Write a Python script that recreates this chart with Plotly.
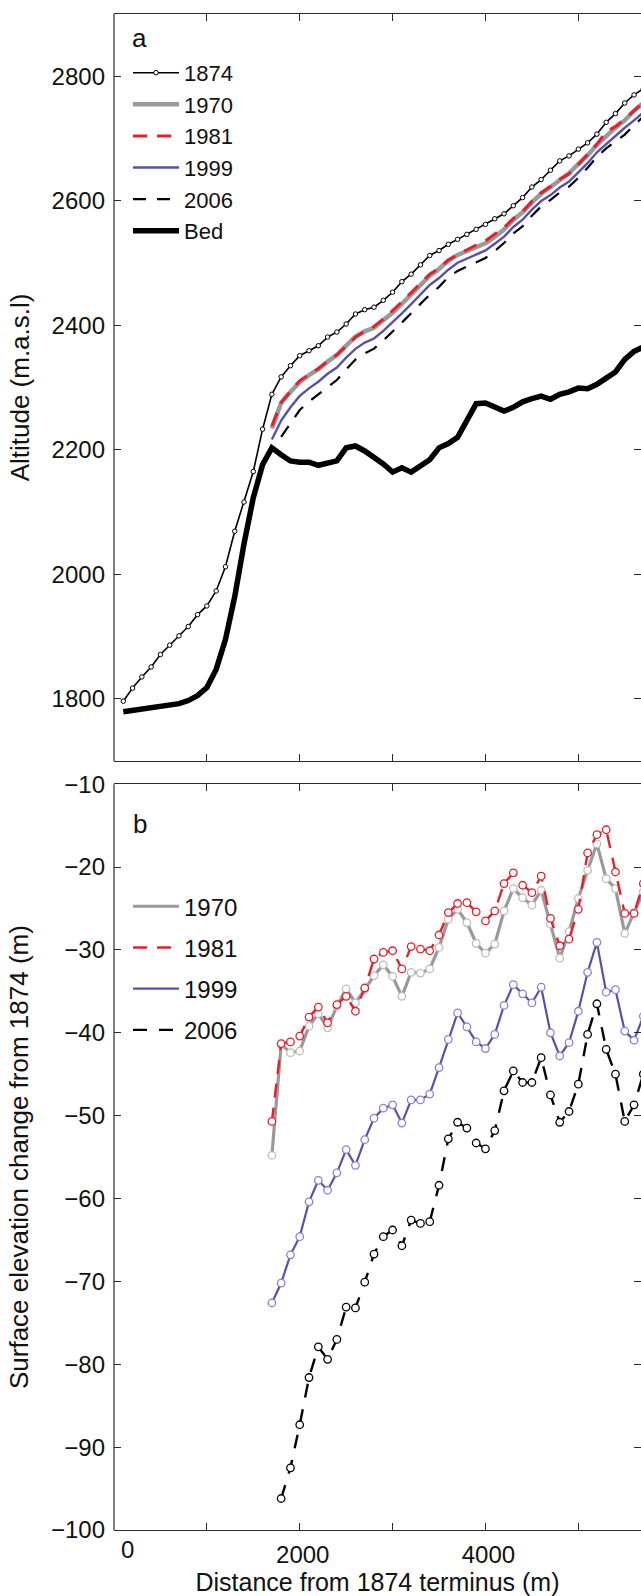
import plotly.graph_objects as go

# ---------------- data ----------------
dist_1874 = [100, 200, 300, 400, 500, 600, 700, 800, 900, 1000, 1100, 1200, 1300, 1400,
             1500, 1600, 1700, 1800, 1900, 2000, 2100, 2200, 2300, 2400, 2500, 2600, 2700,
             2800, 2900, 3000, 3100, 3200, 3300, 3400, 3500, 3600, 3700, 3800, 3900, 4000,
             4100, 4200, 4300, 4400, 4500, 4600, 4700, 4800, 4900, 5000, 5100, 5200, 5300,
             5400, 5500, 5600, 5700]
surf_1874 = [1796, 1817, 1835, 1851, 1871, 1886, 1901, 1916, 1935, 1949, 1973, 2012, 2069, 2116,
             2165, 2233, 2289, 2317, 2335, 2351, 2359, 2367, 2381, 2389, 2402, 2418, 2425,
             2429, 2440, 2453, 2470, 2482, 2497, 2512, 2520, 2530, 2538, 2546, 2554, 2562,
             2571, 2579, 2592, 2605, 2622, 2634, 2649, 2664, 2672, 2683, 2693, 2707, 2726,
             2740, 2757, 2770, 2780]
bed = [1779, 1781, 1783, 1785, 1787, 1789, 1792, 1797, 1805, 1818, 1847, 1895, 1964, 2049,
       2123, 2176, 2203, 2192, 2182, 2180, 2180, 2175, 2179, 2182, 2203, 2206, 2198,
       2188, 2177, 2164, 2171, 2164, 2173, 2184, 2203, 2210, 2220, 2245, 2274, 2275,
       2268, 2262, 2268, 2277, 2282, 2286, 2281, 2289, 2293, 2299, 2298, 2305, 2315,
       2325, 2345, 2358, 2365]

dist_change = [1700, 1800, 1900, 2000, 2100, 2200, 2300, 2400, 2500, 2600, 2700, 2800, 2900,
               3000, 3100, 3200, 3300, 3400, 3500, 3600, 3700, 3800, 3900, 4000, 4100, 4200,
               4300, 4400, 4500, 4600, 4700, 4800, 4900, 5000, 5100, 5200, 5300, 5400, 5500,
               5600, 5700]
chg_1970 = [-54.8, -41.4, -42.4, -42.2, -39.2, -37.7, -39.4, -36.8, -34.7, -36.4, -34.8, -33.1,
            -31.8, -33.2, -35.6, -32.7, -32.8, -32.3, -29.7, -26.3, -25.1, -26.7, -29.2, -30.4,
            -29.3, -25.3, -22.6, -23.7, -24.6, -22.8, -26.9, -31.0, -27.8, -23.8, -20.4, -17.2,
            -21.4, -22.6, -28.0, -25.5, -23.0]
chg_1981 = [-50.7, -41.3, -41.1, -40.4, -38.1, -36.9, -38.8, -36.6, -35.6, -37.4, -34.6, -31.1,
            -30.3, -30.1, -32.3, -29.6, -29.9, -30.1, -28.2, -25.5, -24.4, -24.3, -25.4, -26.5,
            -25.3, -22.0, -20.7, -22.2, -23.1, -21.1, -26.2, -29.5, -28.7, -25.1, -18.3, -16.1,
            -15.5, -20.6, -25.6, -25.6, -22.0]
chg_1999 = [-72.6, -70.2, -66.8, -64.6, -60.4, -57.8, -59.0, -56.9, -54.1, -56.0, -52.9, -50.3,
            -49.1, -48.7, -50.9, -48.1, -48.1, -47.4, -44.2, -40.8, -37.6, -39.3, -41.1, -41.9,
            -40.2, -36.7, -34.2, -35.3, -36.4, -34.5, -40.0, -42.8, -41.2, -37.4, -32.7, -29.1,
            -35.1, -34.8, -39.8, -40.9, -38.0]
dist_2006 = [1800, 1900, 2000, 2100, 2200, 2300, 2400, 2500, 2600, 2700, 2800, 2900,
             3000, 3100, 3200, 3300, 3400, 3500, 3600, 3700, 3800, 3900, 4000, 4100, 4200,
             4300, 4400, 4500, 4600, 4700, 4800, 4900, 5000, 5100, 5200, 5300, 5400, 5500,
             5600, 5700]
chg_2006 = [-96.2, -92.5, -87.3, -81.6, -77.9, -79.4, -77.0, -73.1, -73.2, -70.1, -66.7, -64.6,
            -63.8, -65.7, -62.6, -63.0, -62.8, -58.4, -52.8, -50.8, -51.5, -53.3, -54.0, -51.8,
            -47.0, -44.6, -46.0, -46.0, -43.0, -47.5, -50.8, -49.5, -46.2, -40.2, -36.5, -42.0,
            -45.0, -50.7, -48.7, -45.0]

alt_ticks = [1800, 2000, 2200, 2400, 2600, 2800]
chg_ticks = [-100, -90, -80, -70, -60, -50, -40, -30, -20, -10]
dist_ticks = [0, 1000, 2000, 3000, 4000, 5000, 6000]
dist_ticktext = ["", "", "2000", "", "4000", "", "6000"]

# surfaces of later years = 1874 surface + elevation change
def surface(dists, changes):
    lookup = dict(zip(dist_1874, surf_1874))
    return [lookup[d] + c for d, c in zip(dists, changes)]

surf_1970 = surface(dist_change, chg_1970)
surf_1981 = surface(dist_change, chg_1981)
surf_1999 = surface(dist_change, chg_1999)
surf_2006 = surface(dist_2006, chg_2006)

# ---------------- styles ----------------
FONT = "Liberation Sans, Arial, Helvetica, sans-serif"
GRAY = "#9a9a9a"
GRAY_M = "#bdbdbd"
RED = "#e3202b"
BLUE = "#5652a6"
BLUE_M = "#8583d6"
BLACK = "#000000"
AX = "#2a2a2a"

fig = go.Figure()

# ----- panel a -----
fig.add_trace(go.Scatter(x=dist_1874, y=surf_1874, name="1874", mode="lines+markers",
                         line=dict(color=BLACK, width=1.6),
                         marker=dict(symbol="circle", size=4.5, color="white",
                                     line=dict(color=BLACK, width=1)),
                         xaxis="x", yaxis="y", legend="legend", legendgroup="a1"))
fig.add_trace(go.Scatter(x=dist_change, y=surf_1970, name="1970", mode="lines",
                         line=dict(color=GRAY, width=4.5),
                         xaxis="x", yaxis="y", legend="legend", legendgroup="a2"))
fig.add_trace(go.Scatter(x=dist_change, y=surf_1981, name="1981", mode="lines",
                         line=dict(color=RED, width=3, dash="14px,10px"),
                         xaxis="x", yaxis="y", legend="legend", legendgroup="a3"))
fig.add_trace(go.Scatter(x=dist_change, y=surf_1999, name="1999", mode="lines",
                         line=dict(color=BLUE, width=2.4),
                         xaxis="x", yaxis="y", legend="legend", legendgroup="a4"))
fig.add_trace(go.Scatter(x=dist_2006, y=surf_2006, name="2006", mode="lines",
                         line=dict(color=BLACK, width=2.2, dash="13px,11px"),
                         xaxis="x", yaxis="y", legend="legend", legendgroup="a5"))
fig.add_trace(go.Scatter(x=dist_1874, y=bed, name="Bed", mode="lines",
                         line=dict(color=BLACK, width=5.5),
                         xaxis="x", yaxis="y", legend="legend", legendgroup="a6"))

# ----- panel b (lines carry the legend, markers drawn by companion traces) -----
series_b = [
    ("1970", dist_change, chg_1970, dict(color=GRAY, width=3.2), GRAY_M),
    ("1981", dist_change, chg_1981, dict(color=RED, width=2.4, dash="14px,10px"), RED),
    ("1999", dist_change, chg_1999, dict(color=BLUE, width=2.2), BLUE_M),
    ("2006", dist_2006, chg_2006, dict(color=BLACK, width=2.4, dash="14px,12px"), BLACK),
]
for i, (name, xs, ys, ln, edge) in enumerate(series_b):
    fig.add_trace(go.Scatter(x=xs, y=ys, name=name, mode="lines", line=ln,
                             xaxis="x2", yaxis="y2", legend="legend2",
                             legendgroup="b%d" % i))
    fig.add_trace(go.Scatter(x=xs, y=ys, name=name, mode="markers", showlegend=False,
                             marker=dict(symbol="circle", size=7.5, color="white",
                                         line=dict(color=edge, width=1.3)),
                             xaxis="x2", yaxis="y2", legendgroup="b%d" % i))

W, H = 641, 1596
ML, MR, MT, MB = 114, 0, 9, 66
PH = H - MT - MB


def py(px):  # pixel row -> paper y
    return (H - MB - px) / PH


def pxx(px):  # pixel column -> paper x
    return (px - ML) / (W - ML - MR)


xcommon = dict(range=[0, 5675], tickvals=dist_ticks, ticks="inside", ticklen=7, tickwidth=1.2,
               tickcolor=AX, showline=True, linecolor=AX, linewidth=1.2, mirror="ticks",
               showgrid=False, zeroline=False,
               tickfont=dict(family=FONT, size=24, color="#111"))
ycommon = dict(ticks="inside", ticklen=7, tickwidth=1.2, tickcolor=AX, showline=False,
               mirror="ticks", showgrid=False, zeroline=False, ticklabelstandoff=8,
               tickfont=dict(family=FONT, size=24, color="#111"))

fig.update_layout(
    width=W, height=H,
    margin=dict(l=ML, r=MR, t=MT, b=MB),
    paper_bgcolor="white", plot_bgcolor="white",
    font=dict(family=FONT, size=24, color="#111"),
    xaxis=dict(**xcommon, anchor="y", domain=[0, 1], showticklabels=False, matches="x2"),
    yaxis=dict(**ycommon, range=[1700, 2900], tickvals=alt_ticks, anchor="x",
               domain=[py(758.4), 1],
               title=dict(text="Altitude (m.a.s.l)", font=dict(family=FONT, size=26),
                          standoff=14)),
    xaxis2=dict(**xcommon, anchor="y2", domain=[0, 1], ticktext=dist_ticktext,
                ticklabelstandoff=3, ticklabelshift=3,
                title=dict(text="Distance from 1874 terminus (m)",
                           font=dict(family=FONT, size=25), standoff=6)),
    yaxis2=dict(**ycommon, range=[-100, -10], tickvals=chg_ticks, anchor="x2",
                domain=[0, py(781.7)],
                title=dict(text="Surface elevation change from 1874 (m)",
                           font=dict(family=FONT, size=26), standoff=14)),
    legend=dict(x=pxx(128), y=py(47), xanchor="left", yanchor="top",
                bgcolor="rgba(0,0,0,0)", borderwidth=0, itemwidth=46,
                font=dict(family=FONT, size=22, color="#111"), tracegroupgap=0,
                itemclick=False),
    legend2=dict(x=pxx(128), y=py(882), xanchor="left", yanchor="top",
                 bgcolor="rgba(0,0,0,0)", borderwidth=0, itemwidth=46,
                 font=dict(family=FONT, size=24, color="#111"), tracegroupgap=7,
                 itemclick=False),
    showlegend=True,
)

# left border lines (right border lies outside the cropped picture)
for xr, yr in (("x domain", "y domain"), ("x2 domain", "y2 domain")):
    fig.add_shape(type="line", xref=xr, yref=yr, x0=0, x1=0, y0=0, y1=1,
                  line=dict(color=AX, width=1.2))

# panel letters and the shifted "0" tick label
fig.add_annotation(text="a", xref="paper", yref="paper", x=pxx(139), y=py(33),
                   xanchor="center", yanchor="middle", showarrow=False,
                   font=dict(family=FONT, size=26, color="#111"))
fig.add_annotation(text="b", xref="paper", yref="paper", x=pxx(140), y=py(822),
                   xanchor="center", yanchor="middle", showarrow=False,
                   font=dict(family=FONT, size=26, color="#111"))
fig.add_annotation(text="0", xref="x2", yref="paper", x=0, xshift=13, y=py(1550),
                   xanchor="center", yanchor="middle", showarrow=False,
                   font=dict(family=FONT, size=24, color="#111"))

fig.write_html("out.html", config={"displayModeBar": False},
               post_script="document.body.style.margin='0';document.body.style.padding='0';"
                           "document.body.style.overflow='hidden';")
